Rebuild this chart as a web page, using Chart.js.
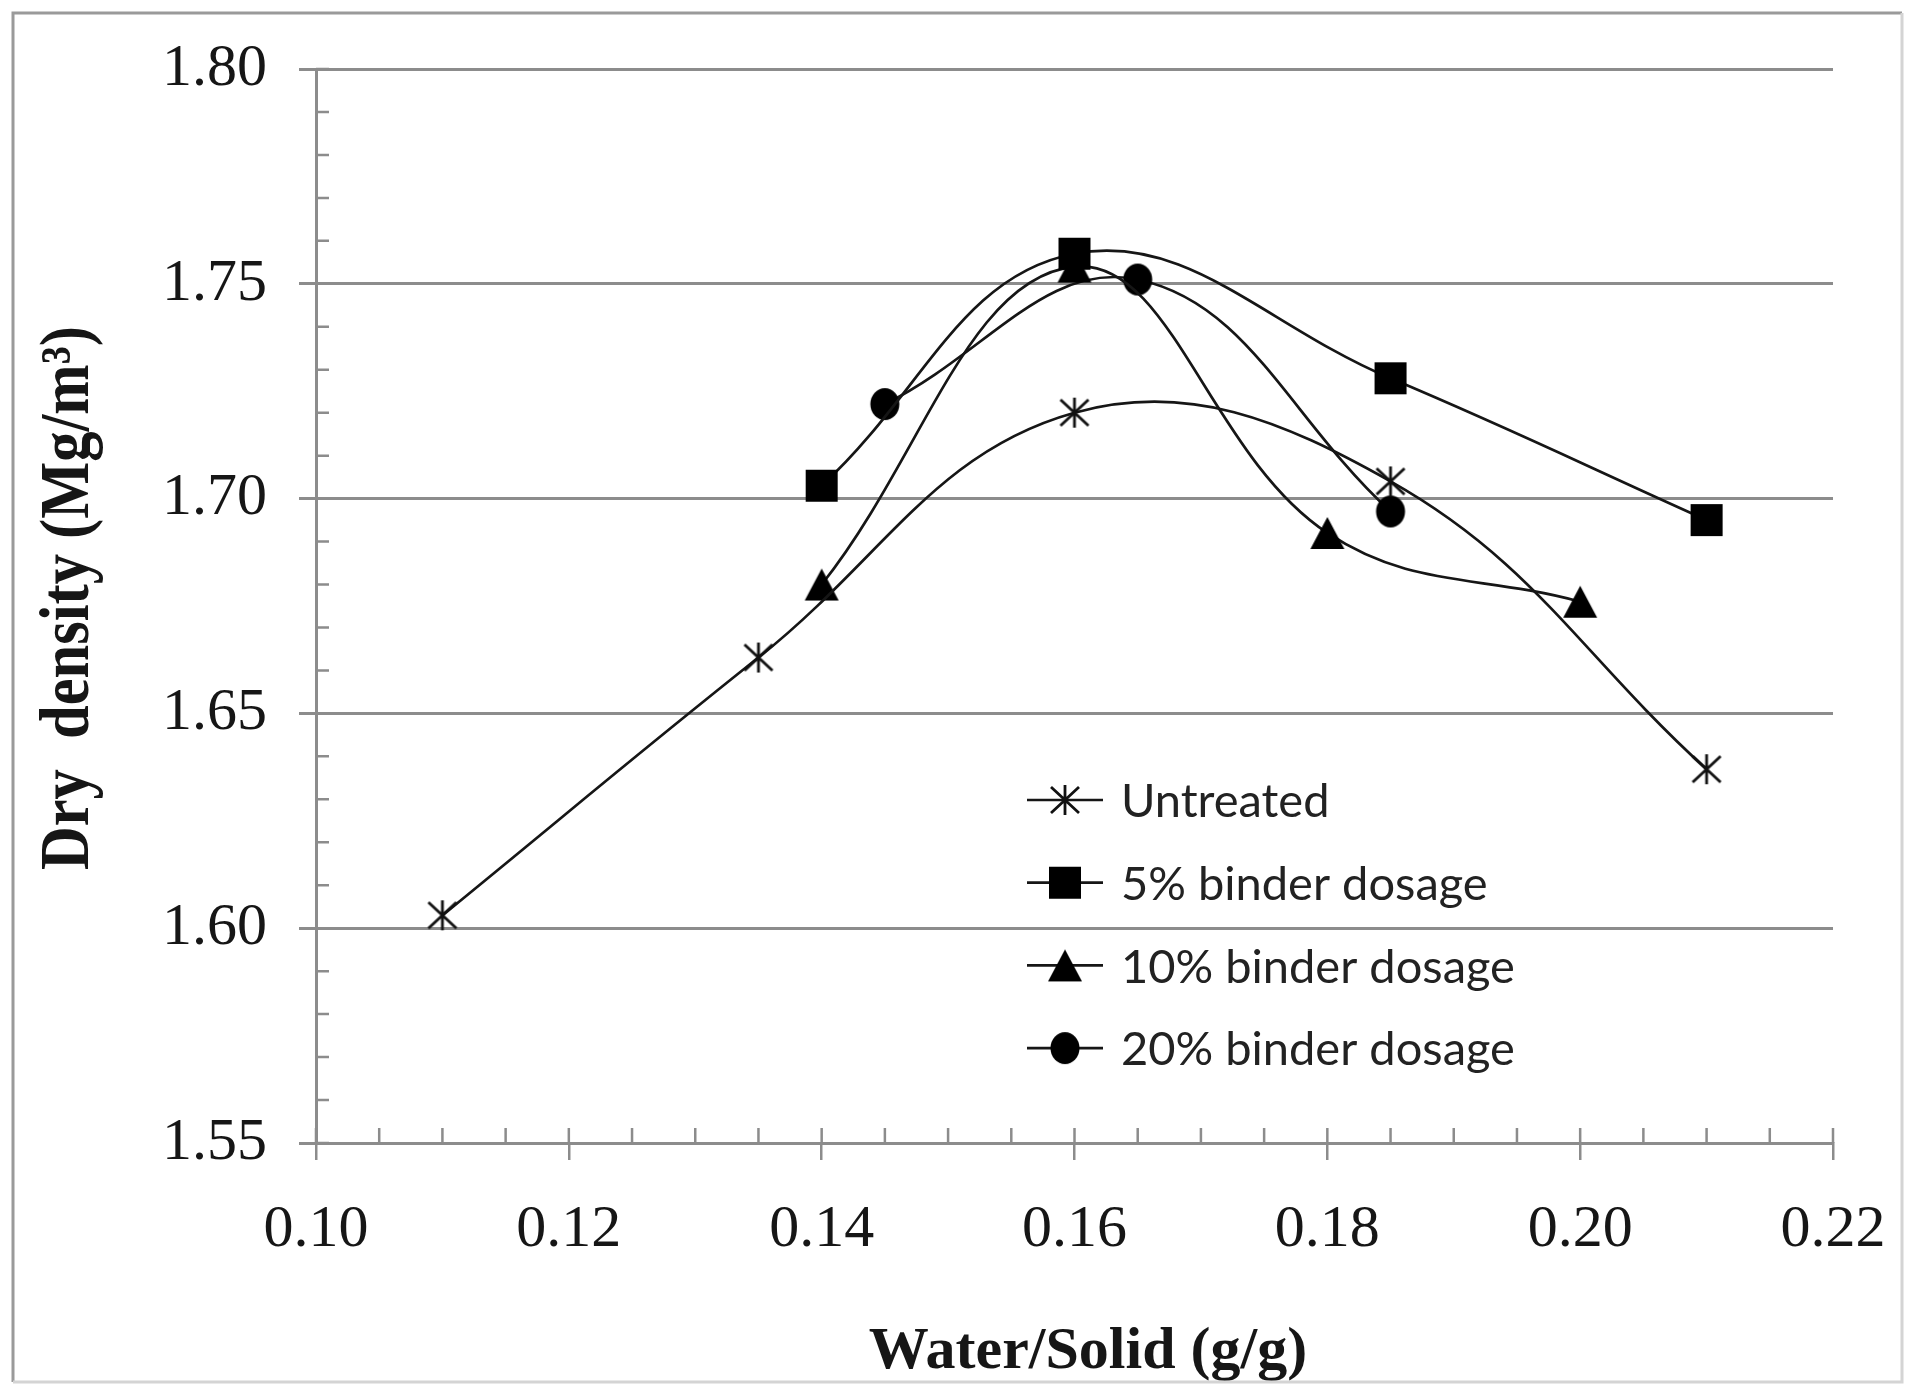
<!DOCTYPE html>
<html>
<head>
<meta charset="utf-8">
<title>Dry density vs water/solid</title>
<script src="https://cdn.jsdelivr.net/npm/chart.js@4.4.1/dist/chart.umd.min.js"></script>
<style>
    html, body { margin: 0; padding: 0; background: #ffffff; }
    #wrap { width: 1906px; height: 1384px; }
</style>
</head>
<body>
<div id="wrap"><canvas id="chart-density" width="1906" height="1384"></canvas></div>
<script>
// water/solid ratio (g/g) against dry density (Mg/m3)
const untreated_x = [0.11, 0.135, 0.16, 0.185, 0.21];
const untreated_y = [1.603, 1.663, 1.720, 1.704, 1.637];

const binder5_x = [0.14, 0.16, 0.185, 0.21];
const binder5_y = [1.703, 1.757, 1.728, 1.695];

const binder10_x = [0.14, 0.16, 0.18, 0.20];
const binder10_y = [1.680, 1.754, 1.692, 1.676];

const binder20_x = [0.145, 0.165, 0.185];
const binder20_y = [1.722, 1.751, 1.697];

const series_names = ['Untreated', '5% binder dosage', '10% binder dosage', '20% binder dosage'];

const x_ticks = [0.10, 0.12, 0.14, 0.16, 0.18, 0.20, 0.22];
const y_ticks = [1.55, 1.60, 1.65, 1.70, 1.75, 1.80];

const x_title = 'Water/Solid (g/g)';
const y_title = 'Dry  density (Mg/m\u00B3)';

const AXIS_GREY = '#8c8c8c';
const INK = '#161616';

// marker sprites, used both for the points and the legend
function makeMarker(kind) {
    const c = document.createElement('canvas');
    c.width = 38;
    c.height = 38;
    const ctx = c.getContext('2d');
    const m = 19;
    ctx.fillStyle = '#000';
    ctx.strokeStyle = '#111';
    if (kind === 'asterisk') {
        ctx.lineWidth = 2.8;
        ctx.beginPath();
        ctx.moveTo(m - 14, m - 13); ctx.lineTo(m + 14, m + 13);
        ctx.moveTo(m - 14, m + 13); ctx.lineTo(m + 14, m - 13);
        ctx.moveTo(m, m - 15); ctx.lineTo(m, m + 15);
        ctx.stroke();
    } else if (kind === 'square') {
        ctx.fillRect(m - 16, m - 16, 32, 32);
    } else if (kind === 'triangle') {
        ctx.beginPath();
        ctx.moveTo(m, m - 16);
        ctx.lineTo(m + 17, m + 16);
        ctx.lineTo(m - 17, m + 16);
        ctx.closePath();
        ctx.fill();
    } else {
        ctx.beginPath();
        ctx.ellipse(m, m, 14.5, 16, 0, 0, Math.PI * 2);
        ctx.fill();
    }
    return c;
}

const markers = [makeMarker('asterisk'), makeMarker('square'), makeMarker('triangle'), makeMarker('circle')];

function toPoints(xs, ys) {
    return xs.map((x, i) => ({ x: x, y: ys[i] }));
}

const all_series = [
    toPoints(untreated_x, untreated_y),
    toPoints(binder5_x, binder5_y),
    toPoints(binder10_x, binder10_y),
    toPoints(binder20_x, binder20_y)
];

const datasets = all_series.map((pts, i) => ({
    label: series_names[i],
    data: pts,
    pointStyle: markers[i],
    pointRadius: 16,
    borderColor: INK,
    backgroundColor: INK,
    borderWidth: 2.7,
    tension: 0.4,
    fill: false
}));

// minor ticks, axis titles, legend and the outer frame
const extras = {
    id: 'extras',
    afterDraw(chart) {
        const ctx = chart.ctx;
        const xs = chart.scales.x;
        const ys = chart.scales.y;
        const area = chart.chartArea;

        ctx.save();
        ctx.strokeStyle = AXIS_GREY;
        ctx.lineWidth = 2.5;
        ctx.beginPath();
        for (let i = 0; i <= 24; i++) {
            const px = xs.getPixelForValue(0.10 + i * 0.005);
            ctx.moveTo(px, area.bottom);
            ctx.lineTo(px, area.bottom - 15);
        }
        for (let i = 0; i <= 25; i++) {
            const py = ys.getPixelForValue(1.55 + i * 0.01);
            ctx.moveTo(area.left, py);
            ctx.lineTo(area.left + 13, py);
        }
        ctx.stroke();

        // titles
        ctx.fillStyle = INK;
        ctx.font = 'bold 60px "Liberation Serif"';
        ctx.textAlign = 'center';
        ctx.textBaseline = 'alphabetic';
        ctx.fillText(x_title, 1088, 1368);

        ctx.save();
        ctx.font = 'bold 70px "Liberation Serif"';
        const w = ctx.measureText(y_title).width;
        ctx.translate(88, 598);
        ctx.rotate(-Math.PI / 2);
        ctx.scale(544 / w, 1);
        ctx.fillText(y_title, 0, 0);
        ctx.restore();

        // legend
        ctx.font = '47px Lato';
        ctx.textAlign = 'left';
        ctx.textBaseline = 'middle';
        series_names.forEach((name, i) => {
            const y = 800 + i * 82.7;
            ctx.strokeStyle = INK;
            ctx.lineWidth = 2.7;
            ctx.beginPath();
            ctx.moveTo(1027, y);
            ctx.lineTo(1103, y);
            ctx.stroke();
            const mk = markers[i];
            ctx.drawImage(mk, 1065 - mk.width / 2, y - mk.height / 2);
            ctx.fillStyle = '#222';
            ctx.fillText(name, 1121, y + 2);
        });

        // frame around the whole figure
        ctx.lineWidth = 3;
        ctx.strokeStyle = '#9a9a9a';
        ctx.beginPath();
        ctx.moveTo(13, 1382);
        ctx.lineTo(13, 13);
        ctx.lineTo(1902, 13);
        ctx.stroke();
        ctx.strokeStyle = '#d4d4d4';
        ctx.beginPath();
        ctx.moveTo(1902, 13);
        ctx.lineTo(1902, 1382);
        ctx.lineTo(13, 1382);
        ctx.stroke();
        ctx.restore();
    }
};

new Chart(document.getElementById('chart-density'), {
    type: 'line',
    data: { datasets: datasets },
    options: {
        responsive: false,
        animation: false,
        layout: { padding: { top: 69, right: 73, left: 0, bottom: 0 } },
        plugins: {
            legend: { display: false },
            tooltip: { enabled: false }
        },
        scales: {
            x: {
                type: 'linear',
                min: 0.10,
                max: 0.22,
                afterBuildTicks: s => { s.ticks = x_ticks.map(v => ({ value: v })); },
                afterFit: s => {
                    s.height = 241;
                    s.paddingLeft = 0;
                    s.paddingRight = 0;
                },
                grid: { drawOnChartArea: false, drawTicks: true, tickLength: 17, color: AXIS_GREY, lineWidth: 2.5 },
                border: { color: AXIS_GREY, width: 3 },
                ticks: {
                    padding: 34,
                    color: INK,
                    maxRotation: 0,
                    autoSkip: false,
                    font: { family: 'Liberation Serif', size: 60 },
                    callback: v => Number(v).toFixed(2)
                }
            },
            y: {
                type: 'linear',
                min: 1.55,
                max: 1.80,
                afterBuildTicks: s => { s.ticks = y_ticks.map(v => ({ value: v })); },
                afterFit: s => {
                    s.width = 316;
                    s.paddingTop = 0;
                    s.paddingBottom = 0;
                },
                grid: { color: AXIS_GREY, lineWidth: 3, tickLength: 17 },
                border: { color: AXIS_GREY, width: 3 },
                ticks: {
                    padding: 32,
                    color: INK,
                    font: { family: 'Liberation Serif', size: 60 },
                    callback: v => Number(v).toFixed(2)
                }
            }
        }
    },
    plugins: [extras]
});
</script>
</body>
</html>
